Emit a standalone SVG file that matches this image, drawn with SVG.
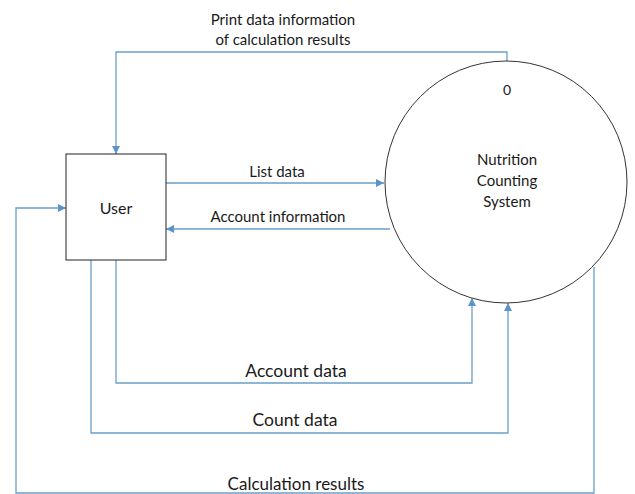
<svg xmlns="http://www.w3.org/2000/svg" width="635" height="494" viewBox="0 0 635 494">
<style>
.c{fill:none;stroke:#6a9ec9;stroke-width:1.3}
.t{font-family:Lato,"Open Sans",sans-serif;fill:#1a1a1a;text-anchor:middle}
</style>
<defs>
<marker id="a" viewBox="0 0 10 10" refX="10" refY="5" markerWidth="8" markerHeight="8" markerUnits="userSpaceOnUse" orient="auto">
<path d="M0,0L10,5L0,10z" fill="#5b95c8"/>
</marker>
</defs>
<rect width="635" height="494" fill="#fff"/>
<g id="connectors">
<path class="c" d="M507,63V52H116V154" marker-end="url(#a)"/>
<path class="c" d="M166,183H384" marker-end="url(#a)"/>
<path class="c" d="M390,229H166" marker-end="url(#a)"/>
<path class="c" d="M116,260V383H472V298" marker-end="url(#a)"/>
<path class="c" d="M91,260V433H508V303" marker-end="url(#a)"/>
<path class="c" d="M594,267V493H16V208H66" marker-end="url(#a)"/>
<text class="t" x="283" y="25" font-size="15">Print data information</text>
<text class="t" x="283" y="45" font-size="15">of calculation results</text>
<text class="t" x="277" y="177" font-size="15">List data</text>
<text class="t" x="278" y="222" font-size="15">Account information</text>
<text class="t" x="296" y="377" font-size="17.5">Account data</text>
<text class="t" x="295" y="426" font-size="17.5">Count data</text>
<text class="t" x="296" y="490" font-size="17">Calculation results</text>
</g>
<g id="user">
<rect x="66" y="154" width="100" height="106" fill="#fff" stroke="#222" stroke-width="1"/>
<text class="t" x="116" y="214" font-size="16">User</text>
</g>
<g id="system">
<circle cx="506" cy="182" r="121" fill="#fff" stroke="#333" stroke-width="1"/>
<text class="t" x="507" y="95" font-size="14">0</text>
<text class="t" x="507" y="165" font-size="15">Nutrition</text>
<text class="t" x="507" y="186" font-size="15">Counting</text>
<text class="t" x="507" y="207" font-size="15">System</text>
</g>
</svg>
